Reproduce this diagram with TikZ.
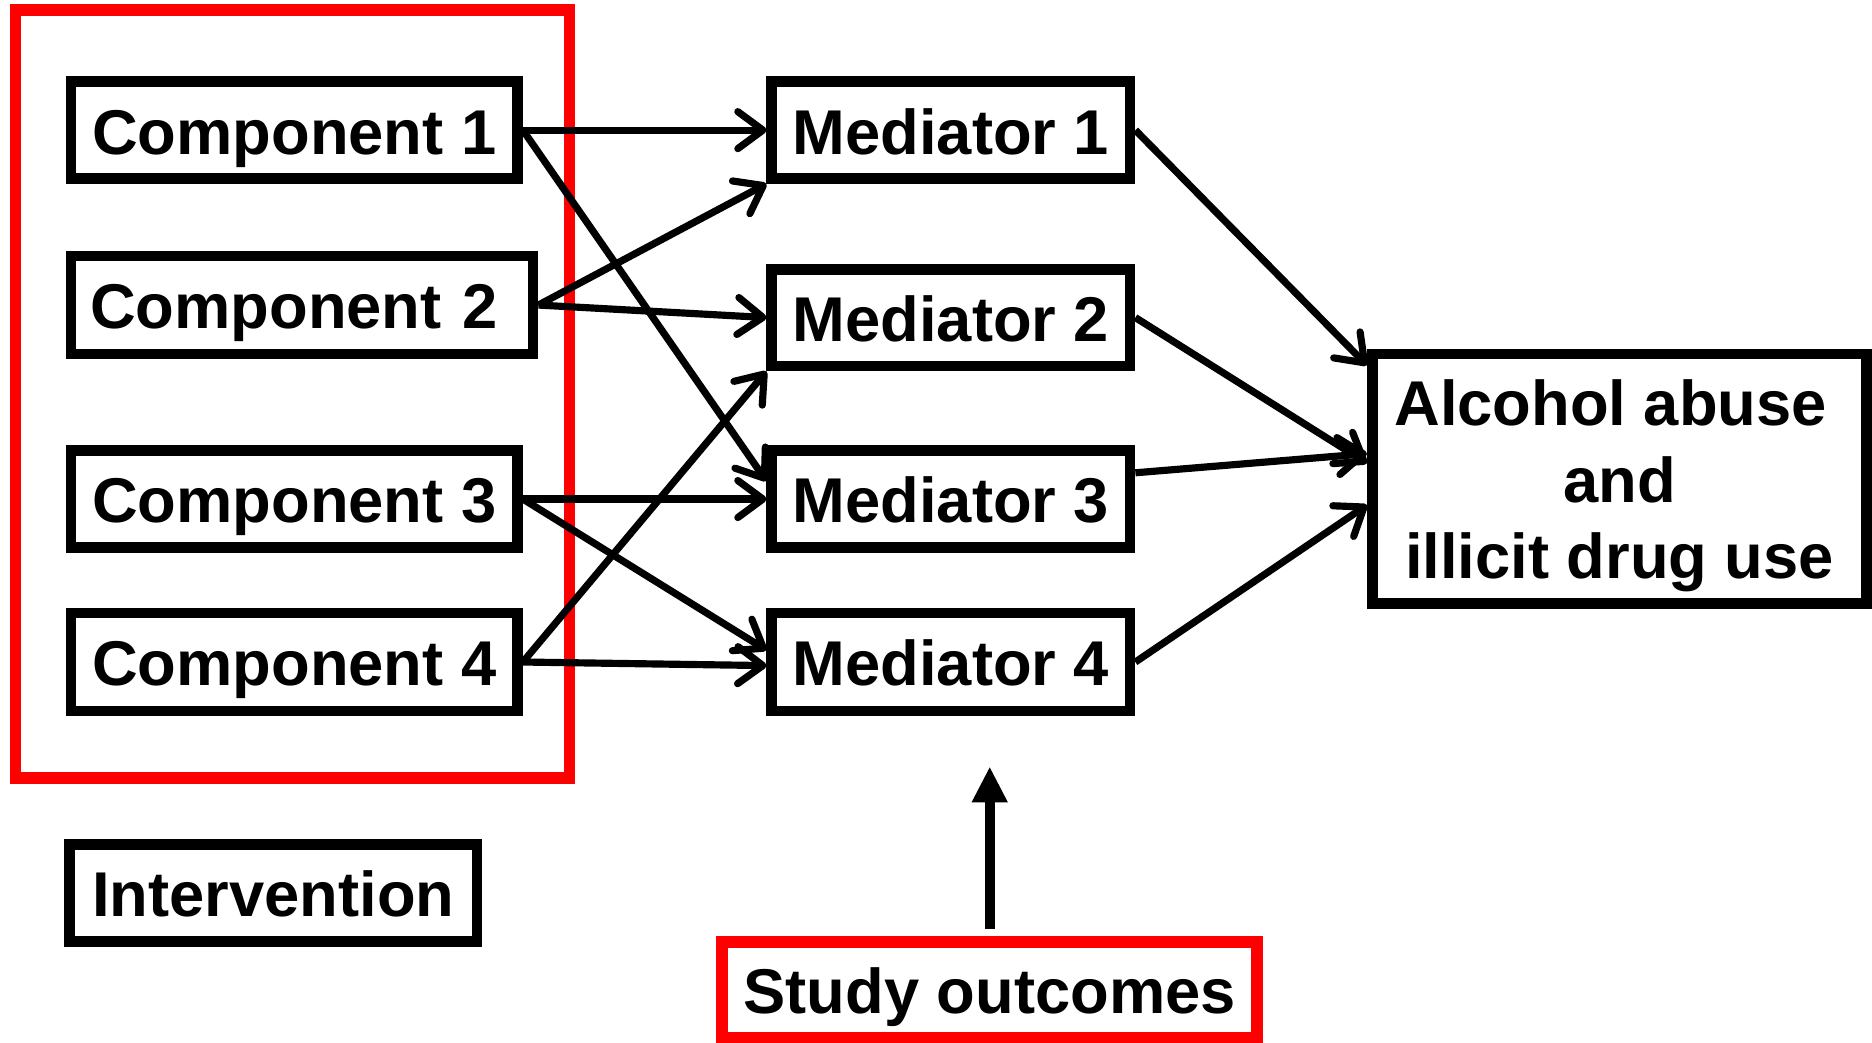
\documentclass[tikz,border=0pt]{standalone}
\usepackage{fontspec}
\setmainfont{Liberation Sans}
\usetikzlibrary{arrows.meta,calc}
\begin{document}
\begin{tikzpicture}[x=1pt,y=-1pt,
  box/.style={draw=black, line width=9pt, inner sep=0pt,
    font=\fontsize{53pt}{64pt}\selectfont\bfseries},
  oneline/.style={text height=40pt, text depth=0pt},
  redbox/.style={draw=red, line width=10pt, inner sep=0pt},
  conn/.style={draw=black, line width=6pt,
    -{Straight Barb[length=21pt,width=31pt,round]}},
  bigarrow/.style={draw=black, line width=8pt,
    -{Triangle[length=30pt,width=28pt]}}]
\useasboundingbox (0,0) rectangle (1568,873);

% group frame
\node[redbox, minimum width=464pt, minimum height=644pt] (grp) at (245,330) {};

% components
\node[box, oneline, minimum width=374pt, minimum height=81pt] (c1) at (246.5,109) {Component 1};
\node[box, oneline, minimum height=82pt, text width=355pt, inner xsep=16pt, align=left] (c2) at (253,255.5) {Component 2};
\node[box, oneline, minimum width=374pt, minimum height=81pt] (c3) at (246.5,418) {Component 3};
\node[box, oneline, minimum width=374pt, minimum height=82pt] (c4) at (246.5,554.5) {Component 4};

% mediators
\node[box, oneline, minimum width=300pt, minimum height=81pt] (m1) at (796.5,109) {Mediator 1};
\node[box, oneline, minimum width=300pt, minimum height=81pt] (m2) at (796.5,266) {Mediator 2};
\node[box, oneline, minimum width=300pt, minimum height=81pt] (m3) at (796.5,418) {Mediator 3};
\node[box, oneline, minimum width=300pt, minimum height=82pt] (m4) at (796.5,554.5) {Mediator 4};

% outcome
\node[box, minimum width=414pt, minimum height=209pt] (o) at (1356.5,401) {};
\node[font=\fontsize{53pt}{64pt}\selectfont\bfseries, align=center, inner sep=0pt] (otext)
  at ($(o.center)+(0,6)$) {Alcohol abuse\hspace*{0.28em}\\and\\illicit drug use};

% legend
\node[box, oneline, minimum width=341pt, minimum height=81pt] (iv) at (229,748) {Intervention};
\node[box, oneline, draw=red, line width=10pt, minimum width=448pt, minimum height=80pt] (so) at (829,829) {Study outcomes};

% connectors components -> mediators
\draw[conn] (c1.east) -- (m1.west);
\draw[conn] (c1.east) -- ($(m3.west)+(0,-15)$);
\draw[conn] (c2.east) -- (m1.south west);
\draw[conn] (c2.east) -- (m2.west);
\draw[conn] (c3.east) -- (m3.west);
\draw[conn] (c3.east) -- ($(m4.west)+(0,-10)$);
\draw[conn] (c4.east) -- (m2.south west);
\draw[conn] (c4.east) -- ($(m4.west)+(0,3)$);

% connectors mediators -> outcome
\draw[conn] (m1.east) -- ($(o.north west)+(0,14)$);
\draw[conn] (m2.east) -- ($(o.west)+(0,-13)$);
\draw[conn] ($(m3.east)+(0,-22)$) -- ($(o.west)+(0,-21)$);
\draw[conn] (m4.east) -- ($(o.west)+(0,22)$);

% study outcomes arrow
\coordinate (tipc) at ($(so.north)+(0,-142)$);
\draw[bigarrow] ($(so.north)+(0,-6)$) -- (tipc);
\end{tikzpicture}
\end{document}
